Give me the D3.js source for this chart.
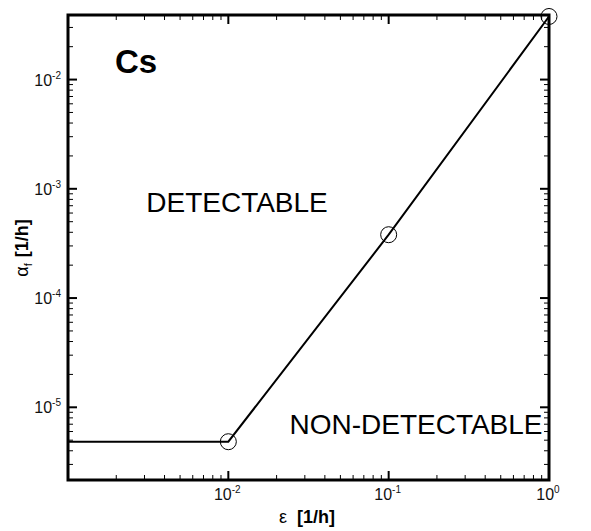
<!DOCTYPE html>
<html><head><meta charset="utf-8">
<script src="https://cdn.jsdelivr.net/npm/d3@7"></script>
<style>body{margin:0;background:#fff;} svg{display:block;font-family:Arial,"Liberation Sans",sans-serif;}</style>
</head><body>
<svg id="c" width="591" height="531"></svg>
<script>
const epsilon = [0.001, 0.01, 0.1, 1];
const alphaF = [4.84e-6, 4.84e-6, 3.8e-4, 0.0378];
const markerIdx = [1, 2, 3];
const xTickExp = [-2, -1, 0];
const yTickExp = [-5, -4, -3, -2];
const xDomain = [1e-3, 1];
const yDomain = [2.16e-6, 0.039];

const W = 591, H = 531;
const m = {l: 68, r: 42, t: 15, b: 51};
const svg = d3.select("#c");
const x = d3.scaleLog().domain(xDomain).range([m.l, W - m.r]);
const y = d3.scaleLog().domain(yDomain).range([H - m.b, m.t]);

function minorTicks(domain) {
  const out = [];
  const lo = Math.floor(Math.log10(domain[0])), hi = Math.ceil(Math.log10(domain[1]));
  for (let e = lo; e <= hi; e++) for (let k = 1; k < 10; k++) {
    const v = k * Math.pow(10, e);
    if (v >= domain[0] * 0.9999 && v <= domain[1] * 1.0001) out.push({v, major: k === 1});
  }
  return out;
}
const g = svg.append("g");
const xt = minorTicks(xDomain), yt = minorTicks(yDomain);
const x0 = m.l, x1 = W - m.r, y0 = H - m.b, y1 = m.t;
xt.forEach(t => {
  const len = t.major ? 9 : 5;
  const X = x(t.v);
  if (X <= x0 + 0.5 || X >= x1 - 0.5) return;
  g.append("line").attr("x1", X).attr("x2", X).attr("y1", y0).attr("y2", y0 - len).attr("stroke", "#000").attr("stroke-width", t.major ? 2 : 1);
  g.append("line").attr("x1", X).attr("x2", X).attr("y1", y1).attr("y2", y1 + len).attr("stroke", "#000").attr("stroke-width", t.major ? 2 : 1);
});
yt.forEach(t => {
  const len = t.major ? 9 : 5;
  const Y = y(t.v);
  if (Y >= y0 - 0.5 || Y <= y1 + 0.5) return;
  g.append("line").attr("x1", x0).attr("x2", x0 + len).attr("y1", Y).attr("y2", Y).attr("stroke", "#000").attr("stroke-width", t.major ? 2 : 1);
  g.append("line").attr("x1", x1).attr("x2", x1 - len).attr("y1", Y).attr("y2", Y).attr("stroke", "#000").attr("stroke-width", t.major ? 2 : 1);
});
g.append("rect").attr("x", x0).attr("y", y1).attr("width", x1 - x0).attr("height", y0 - y1)
  .attr("fill", "none").attr("stroke", "#000").attr("stroke-width", 3);

xTickExp.forEach(e => {
  const t = svg.append("text").attr("x", x(Math.pow(10, e)) - 1).attr("y", y0 + 20)
    .attr("text-anchor", "middle").attr("font-size", 16).attr("fill", "#111");
  t.append("tspan").text("10");
  t.append("tspan").attr("dy", -7).attr("font-size", 10).text(e);
});
yTickExp.forEach(e => {
  const t = svg.append("text").attr("x", x0 - 7).attr("y", y(Math.pow(10, e)) + 6)
    .attr("text-anchor", "end").attr("font-size", 16).attr("fill", "#111");
  t.append("tspan").text("10");
  t.append("tspan").attr("dy", -7).attr("font-size", 10).text(e);
});

const line = d3.line().x((d, i) => x(epsilon[i])).y(d => y(d));
svg.append("path").datum(alphaF).attr("d", line).attr("fill", "none").attr("stroke", "#000").attr("stroke-width", 2);
svg.selectAll("circle.mk").data(markerIdx).enter().append("circle")
  .attr("cx", i => x(epsilon[i])).attr("cy", i => y(alphaF[i])).attr("r", 8)
  .attr("fill", "none").attr("stroke", "#000").attr("stroke-width", 1);

svg.append("text").attr("x", 115).attr("y", 73).attr("font-size", 33).attr("font-weight", "bold").text("Cs");
svg.append("text").attr("x", 237).attr("y", 212).attr("text-anchor", "middle").attr("font-size", 28).text("DETECTABLE");
svg.append("text").attr("x", 416).attr("y", 434).attr("text-anchor", "middle").attr("font-size", 28).text("NON-DETECTABLE");

const xl = svg.append("text").attr("x", 307).attr("y", 523).attr("text-anchor", "middle").attr("font-size", 18).attr("font-weight", "bold");
xl.append("tspan").attr("font-weight", "normal").text("ε");
xl.append("tspan").attr("dx", 10).text("[1/h]");
const yl = svg.append("text").attr("transform", "translate(28,248) rotate(-90)").attr("text-anchor", "middle").attr("font-size", 18).attr("font-weight", "bold");
yl.append("tspan").attr("font-weight", "normal").text("α");
yl.append("tspan").attr("font-weight", "normal").attr("font-size", 11).attr("dy", 4).text("f");
yl.append("tspan").attr("dy", -4).attr("dx", 6).text("[1/h]");
</script>
</body></html>
